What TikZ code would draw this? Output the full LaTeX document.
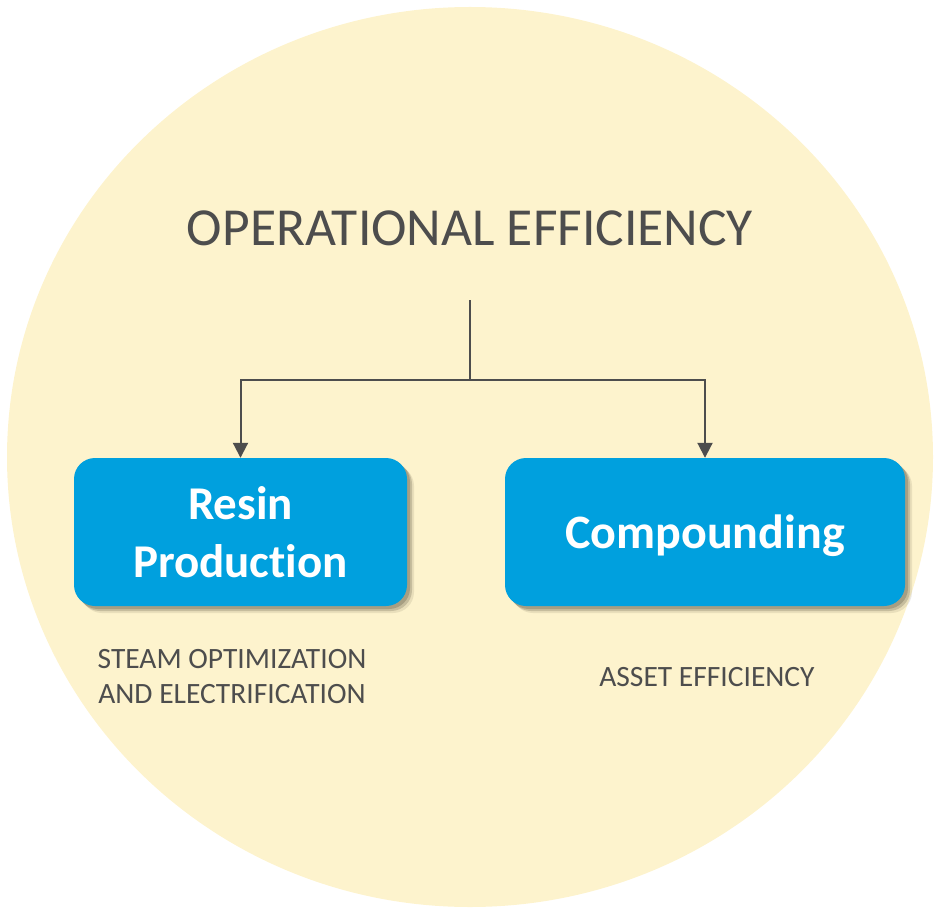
\documentclass[tikz,border=0pt]{standalone}
\usepackage{fontspec}
\setmainfont{Carlito}[Ligatures=NoCommon]
\usetikzlibrary{arrows.meta,shadows}
\definecolor{bgyellow}{RGB}{253,243,205}
\definecolor{boxblue}{RGB}{0,160,222}
\definecolor{txtgray}{RGB}{77,77,77}
\definecolor{shadowgray}{RGB}{120,112,90}
\tikzset{
  areabox/.style={fill=boxblue,rounded corners=21pt,minimum width=#1,minimum height=148pt,
    text=white,font=\bfseries\fontsize{47}{58}\selectfont,align=center,inner sep=0pt,
    drop shadow={shadow xshift=7pt,shadow yshift=-7pt,fill=shadowgray,opacity=.15},
    drop shadow={shadow xshift=5pt,shadow yshift=-5pt,fill=shadowgray,opacity=.3},
    drop shadow={shadow xshift=3pt,shadow yshift=-3pt,fill=shadowgray,opacity=.4}},
  sublabel/.style={text=txtgray,font=\fontsize{29.5}{35}\selectfont,align=center,inner sep=0pt},
  link/.style={draw=txtgray,line width=2pt},
  linkarrow/.style={link,-{Triangle[width=15pt,length=15pt]}}
}
\begin{document}
\begin{tikzpicture}[x=1pt,y=-1pt]
  \useasboundingbox (0,0) rectangle (934,909);
  \fill[bgyellow] (470,457) ellipse [x radius=463,y radius=450];
  \node[text=txtgray,font=\fontsize{53.5}{60}\selectfont,anchor=base] (title) at (470,246) {OPERATIONAL EFFICIENCY};
  \coordinate (stem) at (470,300);
  \coordinate (split) at (470,380);
  \node[areabox=333pt] (resin) at (240.5,532) {Resin\\Production};
  \node[areabox=400pt,font=\bfseries\fontsize{48}{58}\selectfont,text depth=0pt] (compound) at (705,532) {Compounding};
  \node[sublabel] (steam) at (232,677) {STEAM OPTIMIZATION\\AND ELECTRIFICATION};
  \node[sublabel] (asset) at (707,677) {ASSET EFFICIENCY};
  \draw[link] (stem) -- (split);
  \draw[linkarrow] (split) -| (resin.north);
  \draw[linkarrow] (split) -| (compound.north);
\end{tikzpicture}
\end{document}
